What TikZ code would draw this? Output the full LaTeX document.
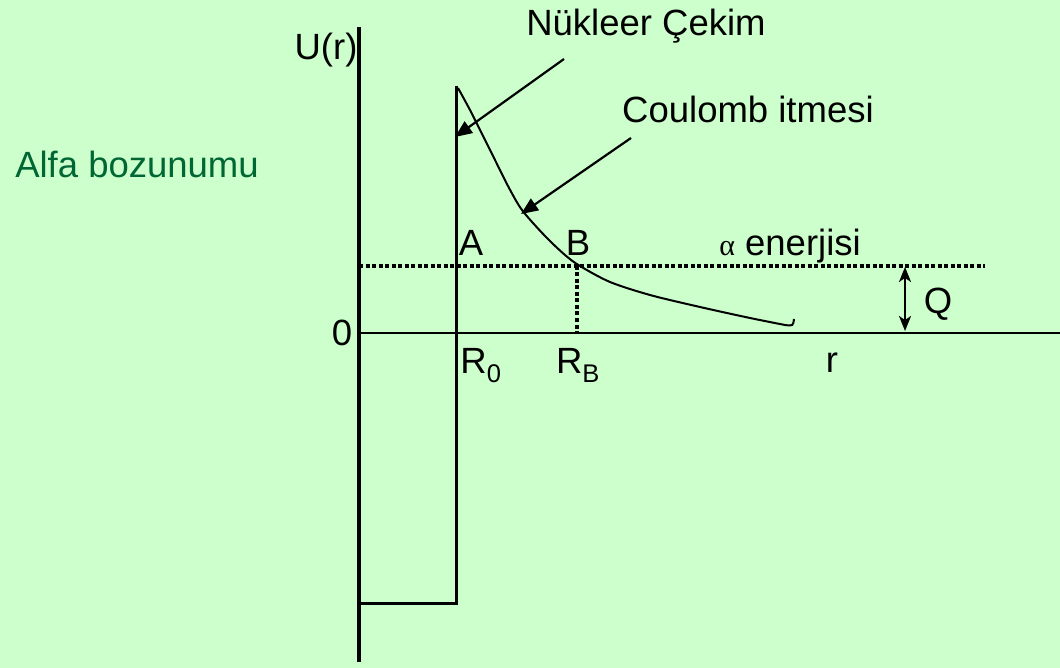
\documentclass[tikz,border=0pt]{standalone}
\usepackage{fontspec}
\setmainfont{Liberation Sans}
\newfontfamily\greekfont{Liberation Serif}
\usetikzlibrary{arrows.meta,positioning}
\definecolor{slidegreen}{HTML}{CCFFCC}
\definecolor{titlegreen}{HTML}{006633}

\begin{document}
\begin{tikzpicture}[
    x=1pt, y=-1pt,
    every node/.style={font=\fontsize{36.5}{42}\selectfont, inner sep=0pt, anchor=base},
    axis/.style={line width=3.4pt},
    wall/.style={line width=3pt},
    curve/.style={line width=2pt},
    level/.style={line width=3.6pt, dash pattern=on 4pt off 2.5pt},
    pointer/.style={-{Triangle[length=17pt,width=14pt]}, line width=2.2pt},
    gap/.style={{Stealth[length=15pt,width=12pt,inset=4pt]}-{Stealth[length=15pt,width=12pt,inset=4pt]}, line width=2.2pt},
  ]

  % --- Background ---
  \fill[slidegreen] (0,0) rectangle (1060,668);
  \useasboundingbox (0,0) rectangle (1060,668);

  % --- Axes ---
  \coordinate (top) at (359,27);
  \coordinate (bottom) at (359,662);
  \coordinate (origin) at (359,333);
  \coordinate (rend) at (1060,333);
  \draw[axis] (top) -- (bottom);
  \draw[line width=2.6pt] (origin) -- (rend);

  % --- Potential well ---
  \coordinate (wellbase) at (359,603);
  \coordinate (wellcorner) at (456,603);
  \coordinate (walltop) at (456,86);
  \draw[wall] (wellbase) -- (wellcorner) -- (walltop);

  % --- Coulomb barrier ---
  \draw[curve] plot[smooth] coordinates {
      (458,88) (470,110) (482,134) (495,160) (508,186) (522,210)
      (545,236) (565,255) (580,266) (610,282) (650,295) (700,307)
      (750,318) (785,325)}
    .. controls (793,326) .. (794,319);

  % --- Alpha energy ---
  \coordinate (levelA) at (359,266);
  \coordinate (levelB) at (577,266);
  \coordinate (levelend) at (985,266);
  \coordinate (RBfoot) at (577,333);
  \draw[level] (levelA) -- (levelend);
  \draw[level] (levelB) -- (RBfoot);

  % --- Q ---
  \coordinate (qtop) at (905,267);
  \coordinate (qbot) at (905,331);
  \draw[gap] (qtop) -- (qbot);

  % --- Labels ---
  \node (title) at (137,178) {\textcolor{titlegreen}{Alfa bozunumu}};
  \node (Ur) at (326,60) {U(r)};
  \node (nuclear) at (646,36) {Nükleer Çekim};
  \node (coulomb) at (748,123) {Coulomb itmesi};
  \node (A) at (471,256) {A};
  \node (B) at (578,256) {B};
  \node (energy) at (790,256) {{\greekfont\fontsize{30}{36}\selectfont α} enerjisi};
  \node (Q) at (938,313) {Q};
  \node (zero) at (342,345) {0};
  \node (R0) at (481,373) {R\textsubscript{0}};
  \node (RB) at (578,373) {R\textsubscript{B}};
  \node (r) at (832,372) {r};

  % --- Pointers ---
  \coordinate (nuktail) at (564,59);
  \coordinate (nukhead) at (455,137);
  \coordinate (coultail) at (631,138);
  \coordinate (coulhead) at (521,214);
  \draw[pointer] (nuktail) -- (nukhead);
  \draw[pointer] (coultail) -- (coulhead);
\end{tikzpicture}
\end{document}
